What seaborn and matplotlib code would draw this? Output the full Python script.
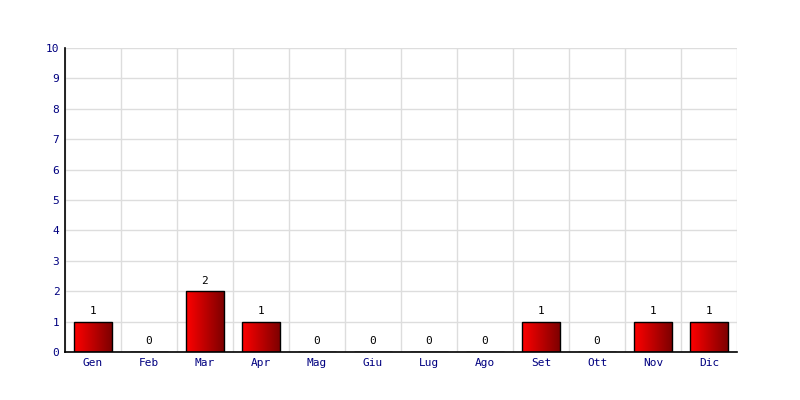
import matplotlib
matplotlib.use("Agg")
import matplotlib.pyplot as plt
import seaborn as sns
import numpy as np
import pandas as pd
from matplotlib.colors import LinearSegmentedColormap

months = ["Gen", "Feb", "Mar", "Apr", "Mag", "Giu", "Lug", "Ago", "Set", "Ott", "Nov", "Dic"]
values = [1, 0, 2, 1, 0, 0, 0, 0, 1, 0, 1, 1]
yticks = list(range(0, 11))

sns.set_theme(style="white")
plt.rcParams['font.family'] = ['DejaVu Sans Mono', 'DejaVu Sans']

df = pd.DataFrame({"month": months, "value": values})

fig = plt.figure(figsize=(8, 4), dpi=100)
ax = fig.add_axes([65/800, 48/400, 672/800, 304/400])
sns.barplot(data=df, x="month", y="value", ax=ax, color="#cc0000",
            width=0.68, edgecolor="black", linewidth=1.0, saturation=1)

ax.set_ylim(0, 10)
ax.set_yticks(yticks)
ax.set_yticklabels([str(t) for t in yticks])
ax.set_xlabel("")
ax.set_ylabel("")

# grid
ax.set_xticks(np.arange(-0.5, len(months), 1), minor=True)
ax.grid(True, which="minor", axis="x", color="#dddddd", linewidth=1)
ax.grid(True, which="major", axis="y", color="#dddddd", linewidth=1)
ax.set_axisbelow(True)
ax.tick_params(axis="x", which="minor", length=0)
ax.tick_params(axis="both", which="major", length=0, labelsize=8, labelcolor="#000080", pad=4)

for s in ["top", "right"]:
    ax.spines[s].set_visible(False)
for s in ["left", "bottom"]:
    ax.spines[s].set_color("black")
    ax.spines[s].set_linewidth(1.2)

# gradient fill in bars
cmap = LinearSegmentedColormap.from_list("rg", ["#ff0000", "#7a0000"])
grad = np.linspace(0, 1, 256).reshape(1, -1)
for p in ax.patches:
    h = p.get_height()
    if h <= 0:
        continue
    x0 = p.get_x(); w = p.get_width()
    im = ax.imshow(grad, cmap=cmap, aspect="auto", extent=[x0, x0 + w, 0, h],
                   zorder=p.get_zorder() + 0.1)
    im.set_clip_path(p)
    p.set_facecolor("none")
    p.set_zorder(p.get_zorder() + 0.2)

ax.set_xlim(-0.5, len(months) - 0.5)
ax.set_ylim(0, 10)

for i, v in enumerate(values):
    ax.annotate(str(v), (i, v), xytext=(0, 4), textcoords="offset points",
                ha="center", va="bottom", fontsize=8, color="black")

fig.savefig("out.png", dpi=100, facecolor="white")
